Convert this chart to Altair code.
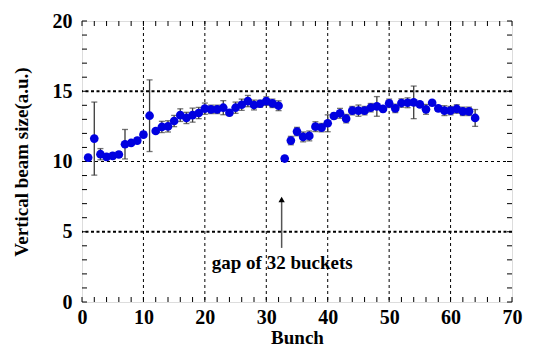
import altair as alt
import pandas as pd

bunch = list(range(1, 65))
size = [10.28, 11.63, 10.52, 10.33, 10.40, 10.50, 11.23, 11.32, 11.49, 11.91,
        13.26, 12.17, 12.46, 12.50, 12.88, 13.30, 13.10, 13.30, 13.45, 13.76,
        13.71, 13.71, 13.83, 13.47, 13.83, 14.04, 14.30, 14.02, 14.11, 14.30,
        14.14, 13.97, 10.21, 11.49, 12.13, 11.75, 11.82, 12.48, 12.41, 12.72,
        13.24, 13.43, 13.05, 13.62, 13.62, 13.62, 13.83, 13.92, 13.74, 14.14,
        13.78, 14.16, 14.18, 14.21, 14.07, 13.71, 14.18, 13.78, 13.62, 13.62,
        13.74, 13.57, 13.57, 13.10]
err = [0.00, 2.60, 0.40, 0.20, 0.20, 0.20, 1.05, 0.15, 0.20, 0.20,
       2.55, 0.15, 0.40, 0.40, 0.40, 0.45, 0.40, 0.50, 0.40, 0.40,
       0.30, 0.30, 0.50, 0.20, 0.40, 0.40, 0.40, 0.35, 0.25, 0.30,
       0.30, 0.35, 0.15, 0.30, 0.30, 0.35, 0.35, 0.35, 0.30, 0.60,
       0.20, 0.35, 0.30, 0.30, 0.40, 0.30, 0.30, 0.70, 0.20, 0.30,
       0.30, 0.30, 0.35, 1.16, 0.15, 0.35, 0.15, 0.20, 0.35, 0.30,
       0.30, 0.30, 0.30, 0.60]

x_grid = [10, 20, 30, 40, 50, 60]
y_grid_thick = [5, 15]
y_grid_thin = [10]
x_minor = list(range(0, 71, 2))
y_minor = list(range(0, 21, 1))

annot_text = ["gap of 32 buckets"]
annot_x = [32.6]
annot_y = [2.8]
arrow_x = [32.5]
arrow_y0 = [3.85]
arrow_y1 = [7.3]

df = pd.DataFrame({"bunch": bunch, "size": size, "err": err})
df["lo"] = df["size"] - df["err"]
df["hi"] = df["size"] + df["err"]

FONT = "Liberation Serif"
xs = alt.Scale(domain=[0, 70], nice=False)
ys = alt.Scale(domain=[0, 20], nice=False)

def X(f="bunch", **kw):
    return alt.X(f"{f}:Q", scale=xs, **kw)

def Y(f="size", **kw):
    return alt.Y(f"{f}:Q", scale=ys, **kw)

xaxis = alt.Axis(values=list(range(0, 71, 10)), ticks=False, grid=False, domain=False,
                 labelFont=FONT, labelFontWeight="bold", labelFontSize=20, labelColor="black",
                 labelPadding=5, title="Bunch", titleFont=FONT, titleFontWeight="bold",
                 titleFontSize=19, titleColor="black", titlePadding=1, labelFlush=False)
yaxis = alt.Axis(values=list(range(0, 21, 5)), ticks=False, grid=False, domain=False,
                 labelFont=FONT, labelFontWeight="bold", labelFontSize=20, labelColor="black",
                 labelPadding=10, title="Vertical beam size(a.u.)", titleFont=FONT,
                 titleFontWeight="bold", titleFontSize=19, titleColor="black", titlePadding=21,
                 labelFlush=False)

base = alt.Chart(df)

xg = alt.Chart(pd.DataFrame({"v": x_grid})).mark_rule(
    color="black", strokeWidth=1, strokeDash=[3, 3]).encode(x=alt.X("v:Q", scale=xs, axis=xaxis))
yg1 = alt.Chart(pd.DataFrame({"v": y_grid_thick})).mark_rule(
    color="black", strokeWidth=2, strokeDash=[3, 2.5]).encode(y=alt.Y("v:Q", scale=ys, axis=yaxis))
yg2 = alt.Chart(pd.DataFrame({"v": y_grid_thin})).mark_rule(
    color="black", strokeWidth=1, strokeDash=[3, 3]).encode(y=alt.Y("v:Q", scale=ys, axis=yaxis))

xm = pd.DataFrame({"v": x_minor})
ym = pd.DataFrame({"v": y_minor})
W, H = 430, 281
tk_bottom = alt.Chart(xm).mark_rule(color="black", strokeWidth=1).encode(
    x=alt.X("v:Q", scale=xs, axis=xaxis), y=alt.value(H), y2=alt.value(H - 5))
tk_top = alt.Chart(xm).mark_rule(color="black", strokeWidth=1).encode(
    x=alt.X("v:Q", scale=xs, axis=xaxis), y=alt.value(0), y2=alt.value(5))
tk_left = alt.Chart(ym).mark_rule(color="black", strokeWidth=1).encode(
    y=alt.Y("v:Q", scale=ys, axis=yaxis), x=alt.value(0), x2=alt.value(5))
tk_right = alt.Chart(ym).mark_rule(color="black", strokeWidth=1).encode(
    y=alt.Y("v:Q", scale=ys, axis=yaxis), x=alt.value(W), x2=alt.value(W - 5))

ERRC = "#3a3a3a"
ebar = base.mark_rule(color=ERRC, strokeWidth=1.3).encode(
    x=X(axis=xaxis), y=Y("lo", axis=yaxis), y2="hi:Q")
cap_lo = base.mark_tick(color=ERRC, thickness=1.3, size=6, orient="horizontal").encode(
    x=X(axis=xaxis), y=Y("lo", axis=yaxis))
cap_hi = base.mark_tick(color=ERRC, thickness=1.3, size=6, orient="horizontal").encode(
    x=X(axis=xaxis), y=Y("hi", axis=yaxis))
pts = base.mark_circle(color="#0000e0", opacity=1, size=75).encode(
    x=X(axis=xaxis), y=Y(axis=yaxis))

adf = pd.DataFrame({"x": arrow_x, "y0": arrow_y0, "y1": arrow_y1})
arrow = alt.Chart(adf).mark_rule(color="#555555", strokeWidth=1.5).encode(
    x=alt.X("x:Q", scale=xs, axis=xaxis), y=alt.Y("y0:Q", scale=ys, axis=yaxis), y2="y1:Q")
head = alt.Chart(adf).mark_point(shape="triangle-up", filled=True, color="black", size=40, opacity=1).encode(
    x=alt.X("x:Q", scale=xs, axis=xaxis), y=alt.Y("y1:Q", scale=ys, axis=yaxis))

tdf = pd.DataFrame({"x": annot_x, "y": annot_y, "t": annot_text})
txt = alt.Chart(tdf).mark_text(font=FONT, fontWeight="bold", fontSize=19, color="black",
                              align="center", baseline="middle").encode(
    x=alt.X("x:Q", scale=xs, axis=xaxis), y=alt.Y("y:Q", scale=ys, axis=yaxis), text="t:N")

chart = alt.layer(xg, yg1, yg2, tk_bottom, tk_top, tk_left, tk_right,
                  ebar, cap_lo, cap_hi, pts, arrow, head, txt).properties(
    width=W, height=H,
    autosize=alt.AutoSizeParams(type="none"),
    padding={"left": 82, "top": 21, "right": 24, "bottom": 45},
    background="white",
).configure_view(stroke="black", strokeWidth=1.5).configure(font=FONT)

chart.save("out.html", embed_options={"renderer": "svg", "actions": False})
